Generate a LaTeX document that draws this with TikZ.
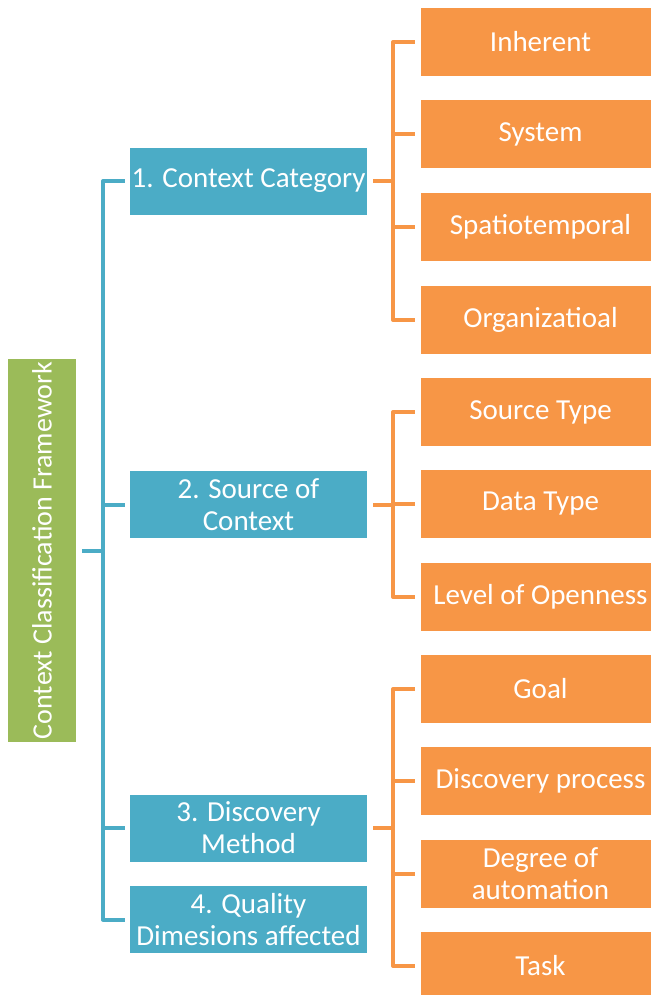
\documentclass[tikz,border=0pt]{standalone}
\usepackage{fontspec}
\setmainfont{Carlito}
\usepackage{tikz}
\usetikzlibrary{positioning,calc}
\definecolor{rootgreen}{RGB}{155,187,89}
\definecolor{catblue}{RGB}{75,172,198}
\definecolor{itemorange}{RGB}{247,150,70}

\begin{document}
\begin{tikzpicture}[x=0.5pt, y=-0.5pt,
    rootbox/.style={fill=rootgreen, text=white, rotate=90, minimum width=191.5pt, minimum height=34pt, inner sep=0pt, font=\fontsize{14}{16}\selectfont},
    catbox/.style={fill=catblue, text=white, minimum width=118.5pt, minimum height=33.5pt, inner sep=0pt, align=center, font=\fontsize{14.5}{16}\selectfont},
    itembox/.style={fill=itemorange, text=white, minimum width=119.5pt, minimum height=34pt, inner sep=0pt, align=center, font=\fontsize{14.5}{16}\selectfont},
    bluelink/.style={catblue, line width=2pt, line join=round},
    orangelink/.style={itemorange, line width=2pt, line join=round}]
    \useasboundingbox (0,0) rectangle (650,995);

    % Root
    \node[rootbox] (root) at (42,550.5) {Context Classification Framework};

    % Categories
    \node[catbox] (cat1) at (248.5,181) {1. Context Category};
    \node[catbox] (cat2) at (248.5,504.5) {2. Source of\\Context};
    \node[catbox] (cat3) at (248.5,828) {3. Discovery\\Method};
    \node[catbox] (cat4) at (248.5,919.5) {4. Quality\\Dimesions affected};

    % Items
    \node[itembox] (i1) at (540.5,42) {Inherent};
    \node[itembox] (i2) at (540.5,134) {System};
    \node[itembox] (i3) at (540.5,227) {Spatiotemporal};
    \node[itembox] (i4) at (540.5,320) {Organizatioal};
    \node[itembox] (i5) at (540.5,412) {Source Type};
    \node[itembox] (i6) at (540.5,504) {Data Type};
    \node[itembox] (i7) at (540.5,597) {Level of Openness};
    \node[itembox] (i8) at (540.5,689) {Goal};
    \node[itembox] (i9) at (540.5,781) {Discovery process};
    \node[itembox] (i10) at (540.5,874) {Degree of\\automation};
    \node[itembox] (i11) at (540.5,966) {Task};

    % Trunk and brackets
    \coordinate (trunk) at (103,0);
    \coordinate (bx) at (393,0);

    \draw[bluelink, shorten <=3pt] (root.south) -- (root.south -| trunk);
    \draw[bluelink, shorten <=2.5pt, shorten >=2.5pt] (cat1.west) -- (cat1.west -| trunk) -- (cat4.west -| trunk) -- (cat4.west);
    \foreach \c in {cat2,cat3}
        \draw[bluelink, shorten >=2.5pt] (\c.west -| trunk) -- (\c.west);

    % Orange brackets
    \draw[orangelink, shorten <=3pt] (cat1.east) -- (cat1.east -| bx);
    \draw[orangelink, shorten <=3pt, shorten >=3pt] (i1.west) -- (i1.west -| bx) -- (i4.west -| bx) -- (i4.west);
    \foreach \i in {i2,i3}
        \draw[orangelink, shorten >=3pt] (\i.west -| bx) -- (\i.west);

    \draw[orangelink, shorten <=3pt] (cat2.east) -- (cat2.east -| bx);
    \draw[orangelink, shorten <=3pt, shorten >=3pt] (i5.west) -- (i5.west -| bx) -- (i7.west -| bx) -- (i7.west);
    \draw[orangelink, shorten >=3pt] (i6.west -| bx) -- (i6.west);

    \draw[orangelink, shorten <=3pt] (cat3.east) -- (cat3.east -| bx);
    \draw[orangelink, shorten <=3pt, shorten >=3pt] (i8.west) -- (i8.west -| bx) -- (i11.west -| bx) -- (i11.west);
    \foreach \i in {i9,i10}
        \draw[orangelink, shorten >=3pt] (\i.west -| bx) -- (\i.west);
\end{tikzpicture}
\end{document}
